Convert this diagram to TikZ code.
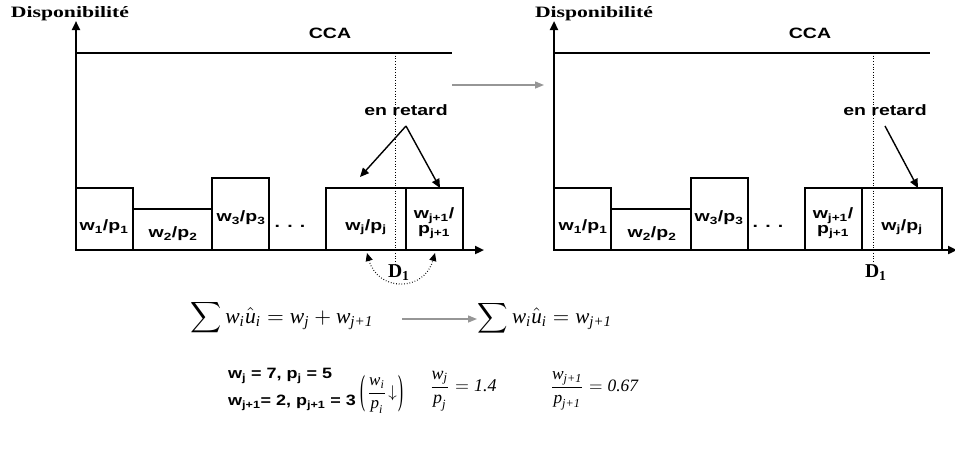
\documentclass[tikz,border=0pt]{standalone}
\usepackage{amsmath}
\usepackage{fontspec}
\usepackage{graphicx}
\setmainfont{Liberation Serif}
\newfontfamily\af{Liberation Sans}[FakeStretch=1.3]
\newfontfamily\afv{Liberation Sans}[FakeStretch=1.2]
\usetikzlibrary{arrows.meta}
\newcommand{\mi}[1]{\textit{#1}}
\newcommand{\bs}[2]{#1\textsubscript{#2}}
\newcommand{\tallparen}[1]{\raisebox{-6pt}{\resizebox*{5pt}{37pt}{#1}}}
\definecolor{arrgray}{RGB}{150,150,150}
\tikzset{
  axis/.style={line width=2.2pt,-{Triangle[length=9pt,width=8pt]}},
  ccaline/.style={line width=2pt},
  bar/.style={draw,line width=1.1pt,anchor=south west,inner sep=0pt,outer sep=0pt},
  lab/.style={font=\af\bfseries\fontsize{15}{16}\selectfont,inner sep=0pt,align=center},
  vals/.style={font=\afv\bfseries\fontsize{15}{16}\selectfont,inner sep=0pt,anchor=west},
  sertext/.style={font=\rmfamily\bfseries,inner sep=0pt},
  dline/.style={line width=0.7pt,dotted},
  pointer/.style={line width=1.4pt,-{Triangle[length=9pt,width=8pt]}},
  garrow/.style={arrgray,line width=1.4pt,-{Triangle[length=9pt,width=7pt]}},
  eq/.style={font=\rmfamily,inner sep=0pt}
}
\begin{document}
\begin{tikzpicture}[x=1pt,y=-1pt]
\useasboundingbox (0,0) rectangle (955,448);
% ---------- left diagram ----------
\coordinate (LO) at (76,250);
\coordinate (LY) at (76,21);
\coordinate (LX) at (484,250);
\coordinate (LC0) at (76,53);
\coordinate (LC1) at (452,53);
\node[sertext] (dispL) at (70,14) {\resizebox{118pt}{11pt}{Disponibilité}};
\node[lab] (ccaL) at (330,33) {CCA};
\node[bar,minimum width=57pt,minimum height=62pt] (L1) at (76,250) {};
\node[bar,minimum width=79pt,minimum height=41pt] (L2) at (133,250) {};
\node[bar,minimum width=57pt,minimum height=72pt] (L3) at (212,250) {};
\node[bar,minimum width=80pt,minimum height=62pt] (Lj) at (326,250) {};
\node[bar,minimum width=57pt,minimum height=62pt] (Lj1) at (406,250) {};
\draw[axis] (LO) -- (LY);
\draw[axis] (LO) -- (LX);
\draw[ccaline] (LC0) -- (LC1);
\node[lab] (tL1) at (104,227) {\bs{w}{1}/\bs{p}{1}};
\node[lab] (tL2) at (173,234) {\bs{w}{2}/\bs{p}{2}};
\node[lab] (tL3) at (241,218) {\bs{w}{3}/\bs{p}{3}};
\node[lab] (dotsL) at (290,226) {. . .};
\node[lab] (tLj) at (366,227) {\bs{w}{j}/\bs{p}{j}};
\node[lab] (tLj1) at (434,223) {\bs{w}{j+1}/\\[-1pt]\bs{p}{j+1}};
\coordinate (LD0) at (395,53);
\coordinate (LD1) at (395,264);
\draw[dline] (LD0) -- (LD1);
\node[sertext] (D1L) at (399,273) {\resizebox{22pt}{!}{\bs{D}{1}}};
\coordinate (LA) at (367,253);
\coordinate (LB) at (435,253);
\draw[dline,line width=1.1pt,{Triangle[length=8pt,width=7pt]}-{Triangle[length=8pt,width=7pt]}]
  (LA) .. controls (378,292) and (424,292) .. (LB);
\node[lab] (retL) at (406,110) {en retard};
\coordinate (LP0) at (406,126);
\coordinate (LPa) at (360,177);
\coordinate (LPb) at (440,188);
\draw[pointer] (LP0) -- (LPa);
\draw[pointer] (LP0) -- (LPb);
% ---------- transition arrow ----------
\coordinate (GA0) at (452,85);
\coordinate (GA1) at (544,85);
\draw[garrow] (GA0) -- (GA1);
% ---------- right diagram ----------
\coordinate (RO) at (554,250);
\coordinate (RY) at (554,21);
\coordinate (RX) at (957,250);
\coordinate (RC0) at (554,53);
\coordinate (RC1) at (930,53);
\node[sertext] (dispR) at (594,14) {\resizebox{118pt}{11pt}{Disponibilité}};
\node[lab] (ccaR) at (810,33) {CCA};
\node[bar,minimum width=57pt,minimum height=62pt] (R1) at (554,250) {};
\node[bar,minimum width=80pt,minimum height=41pt] (R2) at (611,250) {};
\node[bar,minimum width=57pt,minimum height=72pt] (R3) at (691,250) {};
\node[bar,minimum width=57pt,minimum height=62pt] (Rj1) at (805,250) {};
\node[bar,minimum width=80pt,minimum height=62pt] (Rj) at (862,250) {};
\draw[axis] (RO) -- (RY);
\draw[axis] (RO) -- (RX);
\draw[ccaline] (RC0) -- (RC1);
\node[lab] (tR1) at (583,227) {\bs{w}{1}/\bs{p}{1}};
\node[lab] (tR2) at (652,234) {\bs{w}{2}/\bs{p}{2}};
\node[lab] (tR3) at (719,218) {\bs{w}{3}/\bs{p}{3}};
\node[lab] (dotsR) at (768,226) {. . .};
\node[lab] (tRj1) at (833,223) {\bs{w}{j+1}/\\[-1pt]\bs{p}{j+1}};
\node[lab] (tRj) at (902,227) {\bs{w}{j}/\bs{p}{j}};
\coordinate (RD0) at (873,53);
\coordinate (RD1) at (873,262);
\draw[dline] (RD0) -- (RD1);
\node[sertext] (D1R) at (876,273) {\resizebox{22pt}{!}{\bs{D}{1}}};
\node[lab] (retR) at (885,110) {en retard};
\coordinate (RP0) at (885,126);
\coordinate (RPa) at (918,188);
\draw[pointer] (RP0) -- (RPa);
% ---------- equations ----------
\node[eq] (eq1) at (282,318) {\resizebox{183pt}{!}{$\displaystyle\sum \mi{w}_{\mi{i}}\hat{\mi{u}}_{\mi{i}} = \mi{w}_{\mi{j}} + \mi{w}_{\mi{j+1}}$}};
\coordinate (GB0) at (402,319);
\coordinate (GB1) at (477,319);
\draw[garrow] (GB0) -- (GB1);
\node[eq] (eq2) at (545,318) {\resizebox{134pt}{!}{$\displaystyle\sum \mi{w}_{\mi{i}}\hat{\mi{u}}_{\mi{i}} = \mi{w}_{\mi{j+1}}$}};
\node[vals] (vj) at (228,376) {\bs{w}{j} = 7, \bs{p}{j} = 5};
\node[vals] (vj1) at (228,403) {\bs{w}{j+1}= 2, \bs{p}{j+1} = 3};
\node[eq] (ord) at (382,394) {\tallparen{(}\,\scalebox{1.7}{$\dfrac{\mi{w}_{\mi{i}}}{\mi{p}_{\mi{i}}}$}\,\scalebox{1.7}{$\downarrow$}\,\tallparen{)}};
\node[eq] (r1) at (463,391) {\resizebox{67pt}{!}{$\dfrac{\mi{w}_{\mi{j}}}{\mi{p}_{\mi{j}}} = \mi{1.4}$}};
\node[eq] (r2) at (594,391) {\resizebox{88pt}{!}{$\dfrac{\mi{w}_{\mi{j+1}}}{\mi{p}_{\mi{j+1}}} = \mi{0.67}$}};
\end{tikzpicture}
\end{document}
